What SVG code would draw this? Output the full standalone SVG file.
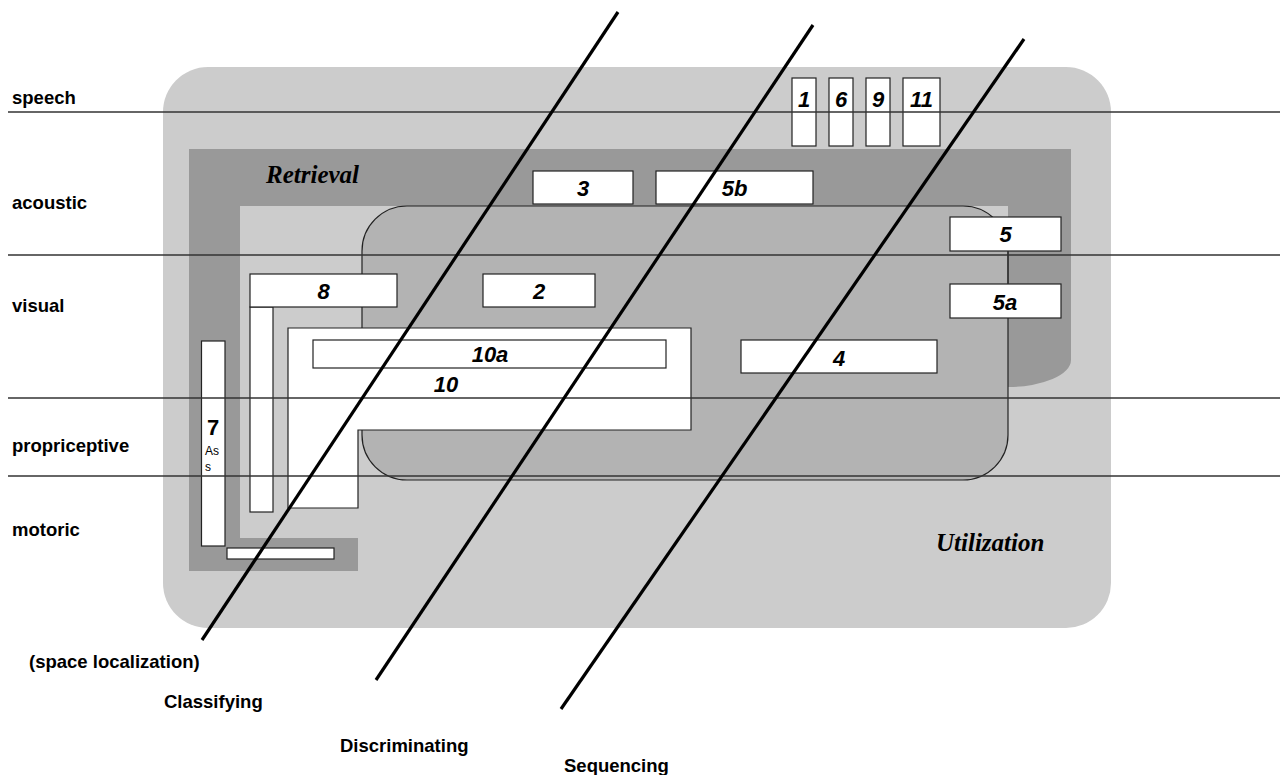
<svg xmlns="http://www.w3.org/2000/svg" width="1280" height="775" viewBox="0 0 1280 775">
  <defs>
    <style>
      .box { fill: #ffffff; stroke: #222222; stroke-width: 1.2; }
      .num { font-family: "Liberation Sans", Arial, sans-serif; font-weight: bold; font-style: italic; font-size: 22px; fill: #000; text-anchor: middle; }
      .lab { font-family: "Liberation Sans", Arial, sans-serif; font-weight: bold; font-size: 18.5px; fill: #000; }
      .title { font-family: "Liberation Serif", "Times New Roman", serif; font-weight: bold; font-style: italic; font-size: 25px; fill: #000; }
      .hline { stroke: #333333; stroke-width: 1.3; }
      .diag { stroke: #000000; stroke-width: 3.2; }
    </style>
  </defs>

  <rect width="1280" height="775" fill="#ffffff"/>

  <g id="utilization-area">
    <rect x="163" y="67" width="948" height="561" rx="45" ry="45" fill="#cccccc"/>
    <text class="title" x="936" y="551">Utilization</text>
  </g>

  <g id="retrieval-area">
    <path d="M189,149 H1071 V360 A63,27 0 0 1 1008,387 L1008,206 L240,206 L240,538 L358,538 L358,571 L189,571 Z" fill="#999999"/>
    <text class="title" x="266" y="183">Retrieval</text>
  </g>

  <g id="core-area">
    <rect x="362" y="206" width="646" height="274" rx="45" ry="45" fill="#b3b3b3" stroke="#222222" stroke-width="1.2"/>
  </g>

  <g id="node-10">
    <path class="box" d="M288,328 H691 V430 H358 V508 H288 Z"/>
    <text class="num" x="446" y="392">10</text>
  </g>
  <g id="node-10a">
    <rect class="box" x="313" y="340" width="353" height="28"/>
    <text class="num" x="490" y="362">10a</text>
  </g>

  <g id="node-8">
    <rect class="box" x="250" y="307" width="23" height="205"/>
    <rect class="box" x="250" y="274" width="147" height="33"/>
    <text class="num" x="323.5" y="299">8</text>
  </g>
  <g id="node-2">
    <rect class="box" x="483" y="274" width="112" height="33"/>
    <text class="num" x="539" y="299">2</text>
  </g>
  <g id="node-3">
    <rect class="box" x="533" y="171" width="100" height="33"/>
    <text class="num" x="583" y="196">3</text>
  </g>
  <g id="node-5b">
    <rect class="box" x="656" y="171" width="157" height="33"/>
    <text class="num" x="734.5" y="196">5b</text>
  </g>
  <g id="node-5">
    <rect class="box" x="950" y="217" width="111" height="34"/>
    <text class="num" x="1005.5" y="242">5</text>
  </g>
  <g id="node-5a">
    <rect class="box" x="950" y="284" width="111" height="34"/>
    <text class="num" x="1005" y="310">5a</text>
  </g>
  <g id="node-4">
    <rect class="box" x="741" y="340" width="196" height="33"/>
    <text class="num" x="839" y="366">4</text>
  </g>
  <g id="node-1">
    <rect class="box" x="792" y="78" width="24" height="68"/>
    <text class="num" x="804" y="107">1</text>
  </g>
  <g id="node-6">
    <rect class="box" x="829" y="78" width="24" height="68"/>
    <text class="num" x="841" y="107">6</text>
  </g>
  <g id="node-9">
    <rect class="box" x="866" y="78" width="24" height="68"/>
    <text class="num" x="878" y="107">9</text>
  </g>
  <g id="node-11">
    <rect class="box" x="903" y="78" width="37" height="68"/>
    <text class="num" x="921.5" y="107">11</text>
  </g>
  <g id="node-7">
    <rect class="box" x="201.5" y="341" width="23.5" height="205"/>
    <rect class="box" x="227" y="548" width="107" height="11"/>
  </g>

  <g id="connectors">
    <line class="hline" x1="8" y1="112" x2="1280" y2="112"/>
    <line class="hline" x1="8" y1="255" x2="1280" y2="255"/>
    <line class="hline" x1="8" y1="398" x2="1280" y2="398"/>
    <line class="hline" x1="8" y1="476" x2="1280" y2="476"/>
    <line class="hline" x1="1008" y1="251" x2="1008" y2="284"/>
    <line class="diag" x1="618" y1="12" x2="202" y2="640"/>
    <line class="diag" x1="813" y1="25" x2="376" y2="680"/>
    <line class="diag" x1="1024" y1="39" x2="561" y2="709"/>
  </g>

  <g id="node-7-text">
    <text x="213" y="435" font-family="Liberation Sans, Arial, sans-serif" font-weight="bold" font-size="22" text-anchor="middle">7</text>
    <text x="205" y="455" font-family="Liberation Sans, Arial, sans-serif" font-size="12">As</text>
    <text x="205" y="471" font-family="Liberation Sans, Arial, sans-serif" font-size="12">s</text>
  </g>

  <g id="row-labels">
    <text class="lab" x="12" y="104">speech</text>
    <text class="lab" x="12" y="209">acoustic</text>
    <text class="lab" x="12" y="312">visual</text>
    <text class="lab" x="12" y="452">propriceptive</text>
    <text class="lab" x="12" y="536">motoric</text>
  </g>

  <g id="axis-labels">
    <text class="lab" x="29" y="668">(space localization)</text>
    <text class="lab" x="164" y="708">Classifying</text>
    <text class="lab" x="340" y="752">Discriminating</text>
    <text class="lab" x="564" y="772">Sequencing</text>
  </g>
</svg>
